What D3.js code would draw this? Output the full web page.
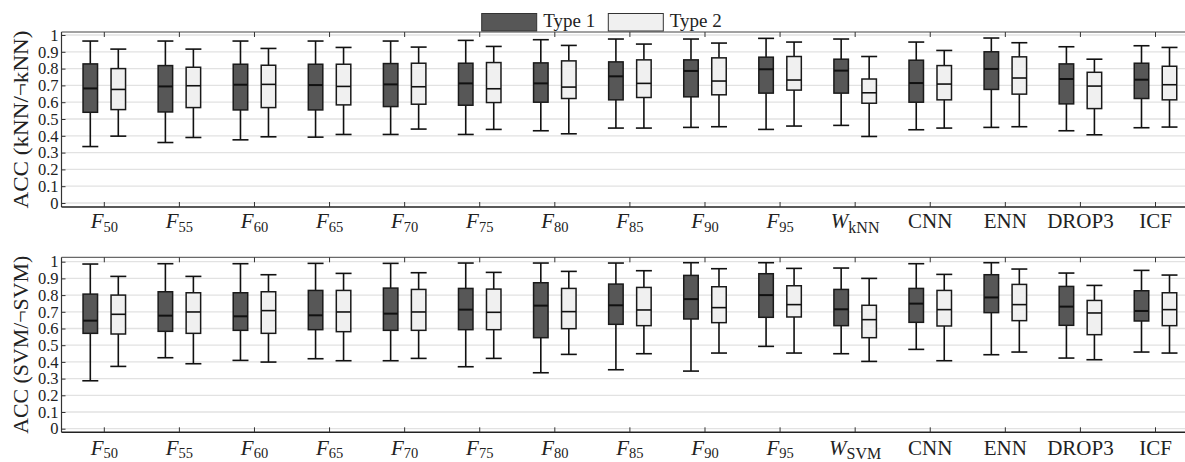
<!DOCTYPE html>
<html><head><meta charset="utf-8">
<script src="https://cdn.jsdelivr.net/npm/d3@7"></script>
<style>
body{margin:0;background:#fff}
svg{display:block}
text{font-family:"Liberation Serif","Times New Roman",serif;fill:#222}
</style>
</head><body>
<svg id="c" width="1185" height="462"></svg>
<script>
// ---- data ----
const categories = ["F50","F55","F60","F65","F70","F75","F80","F85","F90","F95","W","CNN","ENN","DROP3","ICF"];
const labelsTop = [["F","50"],["F","55"],["F","60"],["F","65"],["F","70"],["F","75"],["F","80"],["F","85"],["F","90"],["F","95"],["W","kNN"],["CNN",""],["ENN",""],["DROP3",""],["ICF",""]];
const labelsBottom = [["F","50"],["F","55"],["F","60"],["F","65"],["F","70"],["F","75"],["F","80"],["F","85"],["F","90"],["F","95"],["W","SVM"],["CNN",""],["ENN",""],["DROP3",""],["ICF",""]];
const seriesNames = ["Type 1","Type 2"];
const yTicks = [0,0.1,0.2,0.3,0.4,0.5,0.6,0.7,0.8,0.9,1];
const yTickLabels = ["0","0.1","0.2","0.3","0.4","0.5","0.6","0.7","0.8","0.9","1"];

// [lower whisker, q1, median, q3, upper whisker]
const knnType1 = [
 [0.336,0.540,0.682,0.828,0.964],[0.360,0.542,0.694,0.818,0.964],[0.376,0.554,0.704,0.826,0.964],
 [0.392,0.554,0.702,0.826,0.964],[0.408,0.574,0.706,0.830,0.964],[0.408,0.582,0.712,0.832,0.968],
 [0.430,0.600,0.712,0.834,0.972],[0.446,0.614,0.754,0.840,0.976],[0.450,0.632,0.786,0.852,0.976],
 [0.438,0.654,0.796,0.868,0.980],[0.462,0.654,0.788,0.856,0.976],[0.436,0.600,0.714,0.850,0.958],
 [0.450,0.676,0.798,0.900,0.982],[0.430,0.590,0.738,0.828,0.930],[0.448,0.622,0.734,0.832,0.936]];
const knnType2 = [
 [0.398,0.556,0.676,0.800,0.916],[0.390,0.568,0.698,0.808,0.916],[0.394,0.568,0.706,0.820,0.920],
 [0.408,0.584,0.694,0.826,0.926],[0.440,0.588,0.692,0.832,0.928],[0.438,0.598,0.680,0.836,0.932],
 [0.412,0.622,0.690,0.846,0.938],[0.446,0.628,0.712,0.852,0.946],[0.454,0.644,0.726,0.864,0.952],
 [0.458,0.672,0.732,0.872,0.958],[0.396,0.594,0.656,0.738,0.872],[0.446,0.614,0.708,0.818,0.908],
 [0.454,0.648,0.744,0.870,0.954],[0.406,0.562,0.696,0.778,0.856],[0.452,0.614,0.704,0.814,0.926]];
const svmType1 = [
 [0.287,0.571,0.647,0.806,0.986],[0.425,0.583,0.677,0.820,0.988],[0.409,0.589,0.673,0.814,0.988],
 [0.419,0.593,0.679,0.828,0.990],[0.407,0.589,0.689,0.842,0.990],[0.371,0.593,0.713,0.840,0.992],
 [0.335,0.545,0.737,0.874,0.992],[0.353,0.625,0.739,0.866,0.992],[0.345,0.657,0.776,0.918,0.994],
 [0.493,0.667,0.800,0.928,0.994],[0.449,0.617,0.715,0.834,0.962],[0.475,0.637,0.749,0.840,0.988],
 [0.443,0.695,0.786,0.922,0.994],[0.423,0.619,0.731,0.852,0.932],[0.459,0.645,0.705,0.826,0.948]];
const svmType2 = [
 [0.373,0.567,0.685,0.800,0.912],[0.389,0.571,0.699,0.814,0.912],[0.399,0.571,0.707,0.820,0.922],
 [0.407,0.581,0.699,0.828,0.930],[0.421,0.589,0.699,0.834,0.934],[0.421,0.593,0.697,0.836,0.936],
 [0.445,0.599,0.701,0.840,0.942],[0.449,0.617,0.711,0.846,0.946],[0.453,0.635,0.725,0.850,0.958],
 [0.453,0.669,0.743,0.856,0.960],[0.403,0.545,0.653,0.739,0.900],[0.407,0.615,0.713,0.828,0.924],
 [0.459,0.647,0.743,0.864,0.956],[0.413,0.563,0.693,0.768,0.858],[0.453,0.617,0.713,0.814,0.920]];

// ---- layout ----
const svg = d3.select("#c");
const fills = ["#575757","#f0f0f0"];
const offsets = [-14, 14];
const boxW = 14.5, capW = 16;
const xLeft = 61.5, xRight = 1200;

const x = d3.scalePoint().domain(categories).range([104.3, 1155.5]);

const panels = [
  {top:32, bottom:207, y1:35, y0:203, data:[knnType1,knnType2], labels:labelsTop, labelY:228, subDy:4, title:"ACC (kNN/\u00ACkNN)"},
  {top:257.3, bottom:432.3, y1:261.7, y0:428.7, data:[svmType1,svmType2], labels:labelsBottom, labelY:454.5, subDy:3.5, title:"ACC (SVM/\u00ACSVM)"}
];

panels.forEach(p => {
  const y = d3.scaleLinear().domain([0,1]).range([p.y0, p.y1]);
  const g = svg.append("g");

  // gridlines
  g.selectAll("line.grid").data(yTicks).join("line")
    .attr("x1", xLeft).attr("x2", xRight)
    .attr("y1", d => y(d)).attr("y2", d => y(d))
    .attr("stroke", "#e2e2e2").attr("stroke-width", 1.3);

  // frame
  g.append("line").attr("x1", xLeft).attr("x2", xLeft).attr("y1", p.top).attr("y2", p.bottom).attr("stroke","#333").attr("stroke-width",1.2);
  g.append("line").attr("x1", xLeft).attr("x2", xRight).attr("y1", p.top).attr("y2", p.top).attr("stroke","#444").attr("stroke-width",1);
  g.append("line").attr("x1", xLeft).attr("x2", xRight).attr("y1", p.bottom).attr("y2", p.bottom).attr("stroke","#222").attr("stroke-width",1.5);

  // y axis ticks via d3 axis
  const yAxis = d3.axisLeft(y).tickValues(yTicks).tickFormat((d,i) => yTickLabels[i]).tickSize(-4).tickPadding(7);
  const ya = g.append("g").attr("transform", `translate(${xLeft},0)`).call(yAxis);
  ya.select(".domain").remove();
  ya.selectAll(".tick line").attr("stroke","#333").attr("stroke-width",1);
  ya.selectAll(".tick text").style("font-family",'"Liberation Serif",serif').style("font-size","16.5px").attr("fill","#333").attr("x",-3);

  // category ticks bottom & top
  g.selectAll("line.ctb").data(categories).join("line")
    .attr("x1", d => x(d)).attr("x2", d => x(d))
    .attr("y1", p.bottom).attr("y2", p.bottom - 5).attr("stroke","#333").attr("stroke-width",1);
  g.selectAll("line.ctt").data(categories).join("line")
    .attr("x1", d => x(d)).attr("x2", d => x(d))
    .attr("y1", p.top).attr("y2", p.top + 5).attr("stroke","#333").attr("stroke-width",1);

  // boxes
  p.data.forEach((series, s) => {
    const bg = g.append("g");
    series.forEach((v, i) => {
      const cx = x(categories[i]) + offsets[s];
      const [lo, q1, med, q3, hi] = v;
      bg.append("line").attr("x1",cx).attr("x2",cx).attr("y1",y(lo)).attr("y2",y(q1)).attr("stroke","#111").attr("stroke-width",1.6);
      bg.append("line").attr("x1",cx).attr("x2",cx).attr("y1",y(q3)).attr("y2",y(hi)).attr("stroke","#111").attr("stroke-width",1.6);
      bg.append("line").attr("x1",cx-capW/2).attr("x2",cx+capW/2).attr("y1",y(lo)).attr("y2",y(lo)).attr("stroke","#111").attr("stroke-width",1.6);
      bg.append("line").attr("x1",cx-capW/2).attr("x2",cx+capW/2).attr("y1",y(hi)).attr("y2",y(hi)).attr("stroke","#111").attr("stroke-width",1.6);
      bg.append("rect").attr("x",cx-boxW/2).attr("width",boxW)
        .attr("y",y(q3)).attr("height",y(q1)-y(q3))
        .attr("fill",fills[s]).attr("stroke","#1a1a1a").attr("stroke-width",1.5);
      bg.append("line").attr("x1",cx-boxW/2).attr("x2",cx+boxW/2).attr("y1",y(med)).attr("y2",y(med)).attr("stroke","#111").attr("stroke-width",s===0?2:1.6);
    });
  });

  // x labels
  p.labels.forEach((lab, i) => {
    const t = g.append("text").attr("x", x(categories[i])).attr("y", p.labelY).attr("text-anchor","middle").style("font-size","21px").attr("fill","#222");
    if (lab[1] === "") {
      t.text(lab[0]);
    } else {
      const isW = lab[0] === "W";
      t.append("tspan").style("font-style","italic").text(lab[0]);
      t.append("tspan").attr("dy", isW ? p.subDy + 1 : p.subDy).style("font-size", isW ? "16px" : "14.5px").text(lab[1]);
    }
  });

  // y title
  svg.append("text")
    .attr("transform", `translate(28,${(p.top+p.bottom)/2}) rotate(-90)`)
    .attr("text-anchor","middle")
    .attr("textLength", 178).attr("lengthAdjust","spacingAndGlyphs")
    .style("font-size","20px").attr("fill","#222")
    .text(p.title);
});

// legend
const legend = svg.append("g");
const legX = [481.7, 608.3];
seriesNames.forEach((n, s) => {
  legend.append("rect").attr("x", legX[s]).attr("y", 13.5).attr("width", 55).attr("height", 17.5)
    .attr("fill", fills[s]).attr("stroke","#333").attr("stroke-width",1);
  legend.append("text").attr("x", legX[s] + 61.5).attr("y", 27).style("font-size","19px").attr("fill","#222").text(n);
});
</script>
</body></html>
